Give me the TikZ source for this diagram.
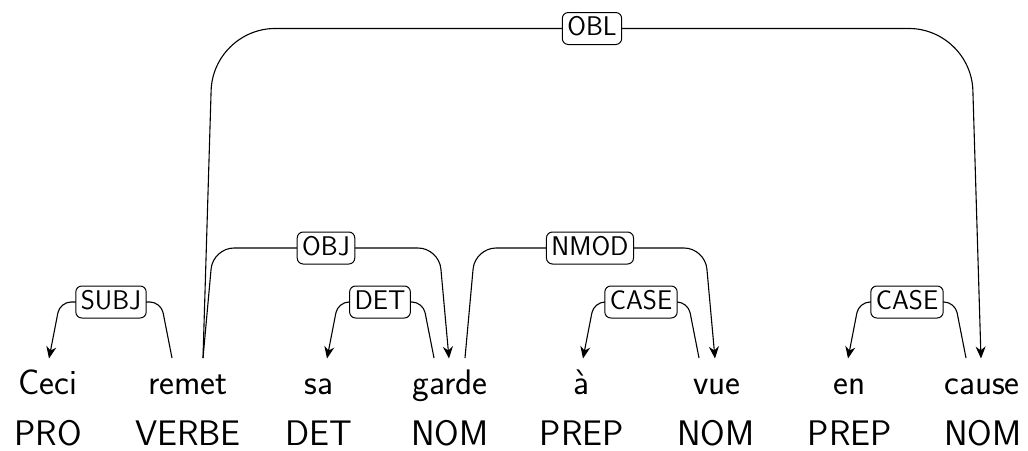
\documentclass[tikz,border=0pt]{standalone}
\usepackage{fontspec}
\usetikzlibrary{calc,arrows.meta}
\begin{document}
\begin{tikzpicture}[x=1pt,y=-1pt,
  word/.style={anchor=base,font=\sffamily\fontsize{35.5}{40}\selectfont,inner sep=0pt},
  lbl/.style={draw,fill=white,rounded corners=6pt,line width=1pt,font=\sffamily\fontsize{27}{30}\selectfont,inner xsep=5pt,inner ysep=4pt,text height=19pt,text depth=5pt},
  arc/.style={line width=1.1pt,rounded corners=#1},
  arc/.default=11pt,
  arr/.style={-{Stealth[length=12pt,width=10pt]}}]
\useasboundingbox (0,0) rectangle (1028,450);
% words
\node[word] (w1) at (48,394) {Ceci};
\node[word] (w2) at (188,394) {remet};
\node[word] (w3) at (319,394) {sa};
\node[word] (w4) at (450,394) {garde};
\node[word] (w5) at (581,394) {à};
\node[word] (w6) at (717,394) {vue};
\node[word] (w7) at (850,394) {en};
\node[word] (w8) at (982,394) {cause};
% POS tags
\node[word] (p1) at (48,445) {PRO};
\node[word] (p2) at (188,445) {VERBE};
\node[word] (p3) at (319,445) {DET};
\node[word] (p4) at (450,445) {NOM};
\node[word] (p5) at (582,445) {PREP};
\node[word] (p6) at (716,445) {NOM};
\node[word] (p7) at (850,445) {PREP};
\node[word] (p8) at (983,445) {NOM};
% endpoints
\coordinate (remetL) at (172,358);
\coordinate (remetR) at (203,358);
\coordinate (ceciT) at (49,358.5);
\coordinate (gardeL) at (434,358);
\coordinate (gardeM) at (449,358.5);
\coordinate (gardeR) at (465,358);
\coordinate (saT) at (327,358.5);
\coordinate (aT) at (583,358.5);
\coordinate (vueL) at (699,358);
\coordinate (vueR) at (715,358.5);
\coordinate (enT) at (848,358.5);
\coordinate (causeL) at (966,358);
\coordinate (causeR) at (981,358.5);
% label positions
\coordinate (lsubj) at (111,302);
\coordinate (lobj) at (326,248);
\coordinate (lobl) at (592,28.5);
\coordinate (ldet) at (380,302);
\coordinate (lnmod) at (590,248);
\coordinate (lcase1) at (641,302);
\coordinate (lcase2) at (907,302);
% arcs
\draw[arc,arr] (remetL) -- ($(remetL|-lsubj)+(-11,0)$) -- ($(ceciT|-lsubj)+(11,0)$) -- (ceciT);
\draw[arc=21pt,arr] (remetR) -- ($(remetR|-lobj)+(10,0)$) -- ($(gardeM|-lobj)+(-10,0)$) -- (gardeM);
\draw[arc=62pt,arr] (remetR) -- ($(remetR|-lobl)+(10,0)$) -- ($(causeR|-lobl)+(-10,0)$) -- (causeR);
\draw[arc,arr] (gardeL) -- ($(gardeL|-ldet)+(-11,0)$) -- ($(saT|-ldet)+(11,0)$) -- (saT);
\draw[arc=21pt,arr] (gardeR) -- ($(gardeR|-lnmod)+(10,0)$) -- ($(vueR|-lnmod)+(-10,0)$) -- (vueR);
\draw[arc,arr] (vueL) -- ($(vueL|-lcase1)+(-11,0)$) -- ($(aT|-lcase1)+(11,0)$) -- (aT);
\draw[arc,arr] (causeL) -- ($(causeL|-lcase2)+(-11,0)$) -- ($(enT|-lcase2)+(11,0)$) -- (enT);
% labels
\node[lbl] (subj) at (lsubj) {SUBJ};
\node[lbl] (obj) at (lobj) {OBJ};
\node[lbl] (obl) at (lobl) {OBL};
\node[lbl] (det) at (ldet) {DET};
\node[lbl] (nmod) at (lnmod) {NMOD};
\node[lbl] (case1) at (lcase1) {CASE};
\node[lbl] (case2) at (lcase2) {CASE};
\end{tikzpicture}
\end{document}
